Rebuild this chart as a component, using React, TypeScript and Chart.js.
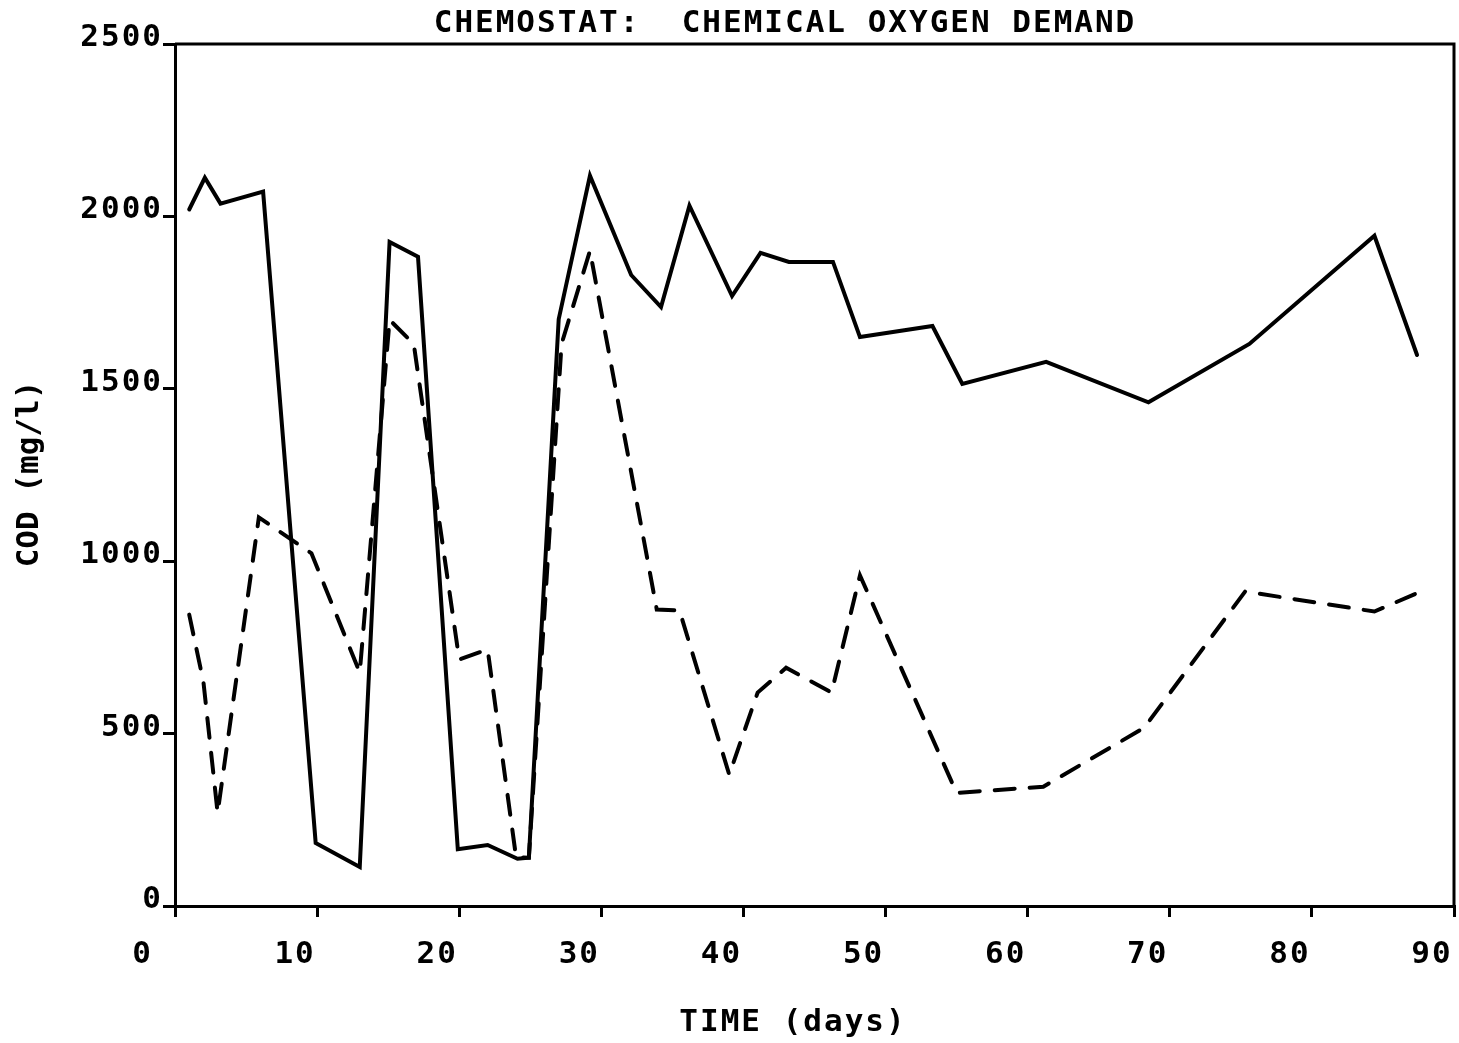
import React, { useEffect, useRef } from 'react';
import { Chart, registerables } from 'chart.js';

Chart.register(...registerables);

const TITLE = 'CHEMOSTAT:  CHEMICAL OXYGEN DEMAND';
const X_TITLE = 'TIME (days)';
const Y_TITLE = 'COD (mg/l)';

const xTickValues = [0, 10, 20, 30, 40, 50, 60, 70, 80, 90];
const yTickValues = [0, 500, 1000, 1500, 2000, 2500];

// Solid line
const solidDays = [1, 2.1, 3.2, 6.2, 9.9, 13, 15.1, 17.1, 19.9, 22, 24.1, 24.9, 27, 29.2, 32.1, 34.2, 36.2, 39.2, 41.2, 43.2, 46.3, 48.2, 53.3, 55.4, 61.3, 68.5, 75.6, 84.4, 87.4];
const solidCOD = [2020, 2112, 2037, 2072, 183, 113, 1926, 1883, 165, 177, 137, 140, 1702, 2118, 1830, 1737, 2031, 1769, 1894, 1868, 1868, 1650, 1682, 1514, 1578, 1461, 1630, 1944, 1598];

// Dashed line
const dashedDays = [1, 2, 3, 5.9, 9.6, 13, 15.1, 16.8, 20, 22, 24, 24.9, 27.2, 29.2, 33.9, 35.5, 39, 41, 43, 46.2, 48.2, 55, 61.1, 68.2, 75.3, 84.4, 87.5];
const dashedCOD = [845, 650, 270, 1127, 1023, 677, 1700, 1630, 715, 744, 142, 140, 1630, 1900, 860, 857, 381, 619, 691, 619, 959, 328, 346, 517, 912, 854, 909];

const FONT_FAMILY = "'DejaVu Sans Mono', 'Liberation Mono', monospace";

const textPlugin = {
  id: 'chemTexts',
  beforeUpdate(chart: any) {
    (chart.ctx as any).letterSpacing = '2px';
  },
  afterDraw(chart: any, _args: any, opts: any) {
    const { ctx, chartArea } = chart;
    ctx.save();
    ctx.strokeStyle = '#000';
    ctx.lineWidth = 3;
    ctx.beginPath();
    ctx.moveTo(chartArea.left, chartArea.top);
    ctx.lineTo(chartArea.right, chartArea.top);
    ctx.lineTo(chartArea.right, chartArea.bottom);
    ctx.stroke();

    ctx.fillStyle = '#000';
    ctx.font = `bold 31px ${FONT_FAMILY}`;
    (ctx as any).letterSpacing = '2px';
    ctx.textAlign = 'center';
    ctx.textBaseline = 'middle';
    ctx.fillText(opts.title, 785, 24);
    ctx.fillText(opts.xTitle, 793, 1023);
    (ctx as any).letterSpacing = '0px';
    ctx.translate(30, 474);
    ctx.rotate(-Math.PI / 2);
    ctx.fillText(opts.yTitle, 0, 0);
    ctx.restore();
  },
};

export default function App() {
  const ref = useRef<HTMLCanvasElement | null>(null);

  useEffect(() => {
    document.body.style.margin = '0';
    const canvas = ref.current;
    if (!canvas) return;
    const chart = new Chart(canvas, {
      type: 'line',
      data: {
        datasets: [
          {
            label: 'COD solid',
            data: solidDays.map((d, i) => ({ x: d, y: solidCOD[i] })),
            borderColor: '#000',
            borderWidth: 4,
            pointRadius: 0,
            tension: 0,
            fill: false,
            borderCapStyle: 'round',
            borderJoinStyle: 'miter',
          },
          {
            label: 'COD dashed',
            data: dashedDays.map((d, i) => ({ x: d, y: dashedCOD[i] })),
            borderColor: '#000',
            borderWidth: 4,
            borderDash: [20, 15],
            pointRadius: 0,
            tension: 0,
            fill: false,
            borderCapStyle: 'round',
            borderJoinStyle: 'miter',
          },
        ],
      },
      options: {
        animation: false,
        responsive: false,
        maintainAspectRatio: false,
        layout: { padding: { top: 44, right: 5, left: 0, bottom: 0 } },
        plugins: {
          legend: { display: false },
          title: { display: false },
          tooltip: { enabled: false },
          chemTexts: { title: TITLE, xTitle: X_TITLE, yTitle: Y_TITLE },
        } as any,
        scales: {
          x: {
            type: 'linear',
            min: xTickValues[0],
            max: xTickValues[xTickValues.length - 1],
            afterBuildTicks: (scale: any) => {
              scale.ticks = xTickValues.map((v) => ({ value: v }));
            },
            afterFit: (scale: any) => {
              scale.height = 137;
              scale.paddingLeft = 0;
              scale.paddingRight = 0;
            },
            ticks: {
              color: '#000',
              font: { family: FONT_FAMILY, size: 31, weight: 'bold' },
              padding: 19,
              labelOffset: -22,
              maxRotation: 0,
              autoSkip: false,
              callback: (v: any) => (v === 0 ? '0 ' : String(v)),
            },
            grid: {
              display: true,
              drawOnChartArea: false,
              drawTicks: true,
              tickLength: 11,
              color: '#000',
              lineWidth: 3,
            },
            border: { display: true, color: '#000', width: 3 },
          },
          y: {
            type: 'linear',
            min: yTickValues[0],
            max: yTickValues[yTickValues.length - 1],
            afterBuildTicks: (scale: any) => {
              scale.ticks = yTickValues.map((v) => ({ value: v }));
            },
            afterFit: (scale: any) => {
              scale.width = 175;
              scale.paddingTop = 0;
              scale.paddingBottom = 0;
            },
            ticks: {
              color: '#000',
              font: { family: FONT_FAMILY, size: 31, weight: 'bold' },
              padding: 0,
              labelOffset: -6,
              autoSkip: false,
              callback: (v: any) => String(v),
            },
            grid: {
              display: true,
              drawOnChartArea: false,
              drawTicks: true,
              tickLength: 12,
              color: '#000',
              lineWidth: 3,
            },
            border: { display: true, color: '#000', width: 3 },
          },
        },
      } as any,
      plugins: [textPlugin as any],
    });
    return () => chart.destroy();
  }, []);

  return (
    <div style={{ width: 1459, height: 1043, background: '#fff' }}>
      <canvas ref={ref} width={1459} height={1043} style={{ display: 'block' }} />
    </div>
  );
}
